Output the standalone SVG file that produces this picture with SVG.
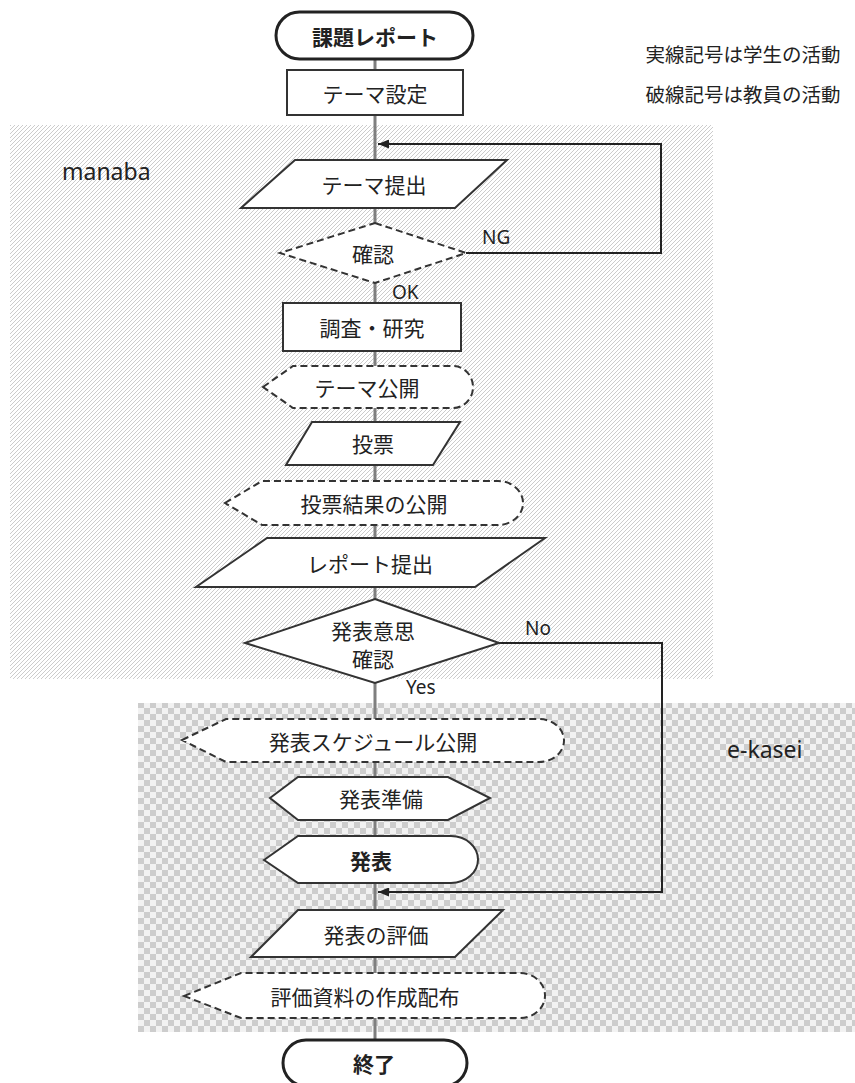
<svg xmlns="http://www.w3.org/2000/svg" width="855" height="1083" viewBox="0 0 855 1083">
<defs>
<pattern id="hatch" patternUnits="userSpaceOnUse" width="4" height="4">
<rect width="4" height="4" fill="#ffffff"/>
<path d="M-1,1 L1,-1 M0,4 L4,0 M3,5 L5,3" stroke="#cccccc" stroke-width="1"/>
</pattern>
<pattern id="checker" patternUnits="userSpaceOnUse" width="12" height="12">
<rect width="12" height="12" fill="#f2f2f2"/>
<rect x="0" y="0" width="6" height="6" fill="#cdcdcd"/>
<rect x="6" y="6" width="6" height="6" fill="#cdcdcd"/>
</pattern>
<marker id="arr" markerUnits="userSpaceOnUse" markerWidth="11" markerHeight="9" refX="11" refY="4.5" orient="auto">
<path d="M0,0 L11,4.5 L0,9 Z" fill="#222"/>
</marker>
<style>
.s{fill:#fff;stroke:#333;stroke-width:2}
.d{fill:#fff;stroke:#333;stroke-width:2;stroke-dasharray:7 4}
.t{stroke:#222;stroke-width:3;fill:#fff}
.jp{font-family:"Noto Sans CJK JP","Noto Sans",sans-serif;font-size:21px;fill:#222;text-anchor:middle;dominant-baseline:central}
.b{font-weight:bold}
.lat{font-family:"Noto Sans","DejaVu Sans",sans-serif;fill:#222}
.conn{fill:none;stroke:#222;stroke-width:2}
</style>
</defs>
<g id="areas">
<rect x="10" y="125" width="703" height="554" fill="url(#hatch)"/>
<rect x="138" y="703" width="717" height="329" fill="url(#checker)"/>
<text class="lat" x="62" y="180" font-size="23">manaba</text>
<text class="lat" x="727" y="758" font-size="23">e-kasei</text>
</g>
<g id="legend">
<text class="jp" x="743" y="53" style="font-size:19.5px">実線記号は学生の活動</text>
<text class="jp" x="743" y="93" style="font-size:19.5px">破線記号は教員の活動</text>
</g>
<g id="connectors">
<line x1="375" y1="59" x2="375" y2="1040" stroke="#7f7f7f" stroke-width="3"/>
<path class="conn" d="M466,253 H661 V144 H378" marker-end="url(#arr)"/>
<path class="conn" d="M499,643 H662 V892 H378" marker-end="url(#arr)"/>
<text class="lat" x="482" y="244" font-size="19">NG</text>
<text class="lat" x="392" y="299" font-size="19">OK</text>
<text class="lat" x="525" y="635" font-size="19">No</text>
<text class="lat" x="406" y="694" font-size="19">Yes</text>
</g>
<g id="n-start">
<rect class="t" x="276" y="12" width="197" height="47" rx="23.5"/>
<text class="jp b" x="375" y="36">課題レポート</text>
</g>
<g id="n-theme-set">
<rect class="s" x="287" y="70" width="176" height="45"/>
<text class="jp" x="375" y="93">テーマ設定</text>
</g>
<g id="n-theme-submit">
<polygon class="s" points="295,160 507,160 455,208 241,208"/>
<text class="jp" x="374" y="184">テーマ提出</text>
</g>
<g id="n-check">
<polygon class="d" points="375,223 466,253 375,283 280,253"/>
<text class="jp" x="373" y="253">確認</text>
</g>
<g id="n-research">
<rect class="s" x="283" y="303" width="178" height="48"/>
<text class="jp" x="372" y="327">調査・研究</text>
</g>
<g id="n-theme-publish">
<path class="d" d="M263,387 L293,366 L453,366 A20,21 0 0 1 453,408 L293,408 Z"/>
<text class="jp" x="367" y="387">テーマ公開</text>
</g>
<g id="n-vote">
<polygon class="s" points="312,422 460,422 433,465 286,465"/>
<text class="jp" x="373" y="443">投票</text>
</g>
<g id="n-vote-result">
<path class="d" d="M225,503 L262,481 L498,481 A25,22 0 0 1 498,525 L262,525 Z"/>
<text class="jp" x="374" y="503">投票結果の公開</text>
</g>
<g id="n-report">
<polygon class="s" points="267,538 545,538 475,587 196,587"/>
<text class="jp" x="370" y="563">レポート提出</text>
</g>
<g id="n-intent">
<polygon class="s" points="375,599 499,643 375,683 245,643"/>
<text class="jp" x="373" y="630">発表意思</text>
<text class="jp" x="373" y="658">確認</text>
</g>
<g id="n-schedule">
<path class="d" d="M182,740 L226,719 L539,719 A25,21.5 0 0 1 539,762 L226,762 Z"/>
<text class="jp" x="373" y="741">発表スケジュール公開</text>
</g>
<g id="n-prepare">
<polygon class="s" points="270,798 298,777 448,777 490,798 448,820 298,820"/>
<text class="jp" x="381" y="798">発表準備</text>
</g>
<g id="n-present">
<path class="s" d="M264,860 L298,836 L451,836 A27,23.5 0 0 1 451,883 L298,883 Z"/>
<text class="jp b" x="371" y="860">発表</text>
</g>
<g id="n-evaluate">
<polygon class="s" points="298,910 503,910 455,957 251,957"/>
<text class="jp" x="376" y="934">発表の評価</text>
</g>
<g id="n-material">
<path class="d" d="M184,996 L241,973 L520,973 A25,22.5 0 0 1 520,1018 L241,1018 Z"/>
<text class="jp" x="365" y="996">評価資料の作成配布</text>
</g>
<g id="n-end">
<rect class="t" x="283" y="1040" width="184" height="46" rx="23"/>
<text class="jp b" x="374" y="1063">終了</text>
</g>
</svg>
